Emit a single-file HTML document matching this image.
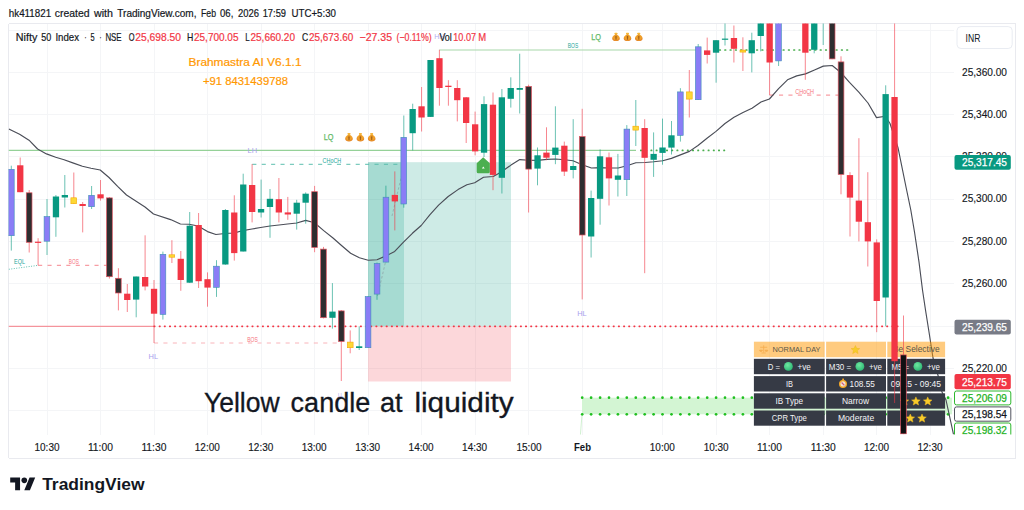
<!DOCTYPE html>
<html><head><meta charset="utf-8"><title>Chart</title>
<style>
html,body{margin:0;padding:0;background:#fff;}
body{width:1024px;height:510px;overflow:hidden;font-family:"Liberation Sans",sans-serif;}
svg{display:block;font-family:"Liberation Sans",sans-serif;}
</style></head><body>
<svg width="1024" height="510" viewBox="0 0 1024 510">
<defs>
<clipPath id="pane"><rect x="8.5" y="23.5" width="945.5" height="411"/></clipPath>
<clipPath id="axis"><rect x="954" y="23.5" width="61" height="411"/></clipPath>
<radialGradient id="gc" cx="0.4" cy="0.35" r="0.7"><stop offset="0" stop-color="#6ee7a0"/><stop offset="1" stop-color="#2bb673"/></radialGradient>
<radialGradient id="bag" cx="0.5" cy="0.45" r="0.6"><stop offset="0" stop-color="#d98a22"/><stop offset="0.5" stop-color="#f3a52b"/><stop offset="1" stop-color="#e17f26"/></radialGradient>
<g id="mb"><path d="M-1.4,-4.1 h2.8 l-0.6,1.5 c2.3,1.1 3.1,2.9 3,4.3 c-0.1,1.7 -1.6,2.4 -3.8,2.4 s-3.7,-0.7 -3.8,-2.4 c-0.1,-1.4 0.7,-3.2 3,-4.3 z" fill="url(#bag)"/><rect x="-1.5" y="-4.2" width="3" height="1.5" rx="0.6" fill="#f6b93b"/><rect x="-0.55" y="-0.9" width="1.1" height="3.6" fill="#8d4f17" opacity="0.8"/></g>
<path id="star" d="M0,-4.2 L1.25,-1.35 L4.3,-1.1 L1.95,0.9 L2.7,3.9 L0,2.3 L-2.7,3.9 L-1.95,0.9 L-4.3,-1.1 L-1.25,-1.35 Z" fill="#f7cb2b" stroke="#ecb91e" stroke-width="0.5" stroke-linejoin="round"/>
</defs>
<rect width="1024" height="510" fill="#fff"/>

<g fill="none" stroke="#e9eaef" stroke-width="1" shape-rendering="crispEdges">
<path d="M8.5,23.5 H1015.5 V458 M8.5,23.5 V458 M8.5,458 H1015.5"/>
</g>
<g stroke="#f4f5f7" stroke-width="1" shape-rendering="crispEdges">
<line x1="9" y1="30.0" x2="954" y2="30.0"/>
<line x1="9" y1="72.3" x2="954" y2="72.3"/>
<line x1="9" y1="114.6" x2="954" y2="114.6"/>
<line x1="9" y1="156.9" x2="954" y2="156.9"/>
<line x1="9" y1="199.2" x2="954" y2="199.2"/>
<line x1="9" y1="241.5" x2="954" y2="241.5"/>
<line x1="9" y1="283.8" x2="954" y2="283.8"/>
<line x1="9" y1="326.1" x2="954" y2="326.1"/>
<line x1="9" y1="368.4" x2="954" y2="368.4"/>
<line x1="9" y1="410.7" x2="954" y2="410.7"/>
<line x1="47.0" y1="24" x2="47.0" y2="434.5"/>
<line x1="100.5" y1="24" x2="100.5" y2="434.5"/>
<line x1="154.0" y1="24" x2="154.0" y2="434.5"/>
<line x1="207.5" y1="24" x2="207.5" y2="434.5"/>
<line x1="261.1" y1="24" x2="261.1" y2="434.5"/>
<line x1="314.6" y1="24" x2="314.6" y2="434.5"/>
<line x1="368.1" y1="24" x2="368.1" y2="434.5"/>
<line x1="421.6" y1="24" x2="421.6" y2="434.5"/>
<line x1="475.1" y1="24" x2="475.1" y2="434.5"/>
<line x1="528.6" y1="24" x2="528.6" y2="434.5"/>
<line x1="582.2" y1="24" x2="582.2" y2="434.5"/>
<line x1="662.5" y1="24" x2="662.5" y2="434.5"/>
<line x1="716.1" y1="24" x2="716.1" y2="434.5"/>
<line x1="769.6" y1="24" x2="769.6" y2="434.5"/>
<line x1="823.2" y1="24" x2="823.2" y2="434.5"/>
<line x1="876.7" y1="24" x2="876.7" y2="434.5"/>
<line x1="930.3" y1="24" x2="930.3" y2="434.5"/>
</g>
<g clip-path="url(#pane)">
<rect x="368" y="162.2" width="143" height="164.1" fill="#089981" fill-opacity="0.2"/>
<rect x="368" y="162.2" width="36" height="164.1" fill="#089981" fill-opacity="0.2"/>
<rect x="368" y="326.3" width="143" height="55.2" fill="#f23645" fill-opacity="0.2"/>
<rect x="582" y="397.7" width="370" height="16.6" fill="#d3f5d3"/>
<line x1="582" y1="414.3" x2="580.4" y2="435" stroke="#c5eec5" stroke-width="0.8"/>
<circle cx="582.2" cy="397.7" r="1.35" fill="#1fbf1f"/><circle cx="582.2" cy="414.3" r="1.35" fill="#1fbf1f"/>
<circle cx="591.1" cy="397.7" r="1.35" fill="#1fbf1f"/><circle cx="591.1" cy="414.3" r="1.35" fill="#1fbf1f"/>
<circle cx="600.1" cy="397.7" r="1.35" fill="#1fbf1f"/><circle cx="600.1" cy="414.3" r="1.35" fill="#1fbf1f"/>
<circle cx="609.0" cy="397.7" r="1.35" fill="#1fbf1f"/><circle cx="609.0" cy="414.3" r="1.35" fill="#1fbf1f"/>
<circle cx="617.9" cy="397.7" r="1.35" fill="#1fbf1f"/><circle cx="617.9" cy="414.3" r="1.35" fill="#1fbf1f"/>
<circle cx="626.8" cy="397.7" r="1.35" fill="#1fbf1f"/><circle cx="626.8" cy="414.3" r="1.35" fill="#1fbf1f"/>
<circle cx="635.8" cy="397.7" r="1.35" fill="#1fbf1f"/><circle cx="635.8" cy="414.3" r="1.35" fill="#1fbf1f"/>
<circle cx="644.7" cy="397.7" r="1.35" fill="#1fbf1f"/><circle cx="644.7" cy="414.3" r="1.35" fill="#1fbf1f"/>
<circle cx="653.6" cy="397.7" r="1.35" fill="#1fbf1f"/><circle cx="653.6" cy="414.3" r="1.35" fill="#1fbf1f"/>
<circle cx="662.5" cy="397.7" r="1.35" fill="#1fbf1f"/><circle cx="662.5" cy="414.3" r="1.35" fill="#1fbf1f"/>
<circle cx="671.5" cy="397.7" r="1.35" fill="#1fbf1f"/><circle cx="671.5" cy="414.3" r="1.35" fill="#1fbf1f"/>
<circle cx="680.4" cy="397.7" r="1.35" fill="#1fbf1f"/><circle cx="680.4" cy="414.3" r="1.35" fill="#1fbf1f"/>
<circle cx="689.3" cy="397.7" r="1.35" fill="#1fbf1f"/><circle cx="689.3" cy="414.3" r="1.35" fill="#1fbf1f"/>
<circle cx="698.2" cy="397.7" r="1.35" fill="#1fbf1f"/><circle cx="698.2" cy="414.3" r="1.35" fill="#1fbf1f"/>
<circle cx="707.2" cy="397.7" r="1.35" fill="#1fbf1f"/><circle cx="707.2" cy="414.3" r="1.35" fill="#1fbf1f"/>
<circle cx="716.1" cy="397.7" r="1.35" fill="#1fbf1f"/><circle cx="716.1" cy="414.3" r="1.35" fill="#1fbf1f"/>
<circle cx="725.0" cy="397.7" r="1.35" fill="#1fbf1f"/><circle cx="725.0" cy="414.3" r="1.35" fill="#1fbf1f"/>
<circle cx="733.9" cy="397.7" r="1.35" fill="#1fbf1f"/><circle cx="733.9" cy="414.3" r="1.35" fill="#1fbf1f"/>
<circle cx="742.9" cy="397.7" r="1.35" fill="#1fbf1f"/><circle cx="742.9" cy="414.3" r="1.35" fill="#1fbf1f"/>
<circle cx="751.8" cy="397.7" r="1.35" fill="#1fbf1f"/><circle cx="751.8" cy="414.3" r="1.35" fill="#1fbf1f"/>
<circle cx="760.7" cy="397.7" r="1.35" fill="#1fbf1f"/><circle cx="760.7" cy="414.3" r="1.35" fill="#1fbf1f"/>
<circle cx="769.6" cy="397.7" r="1.35" fill="#1fbf1f"/><circle cx="769.6" cy="414.3" r="1.35" fill="#1fbf1f"/>
<circle cx="778.6" cy="397.7" r="1.35" fill="#1fbf1f"/><circle cx="778.6" cy="414.3" r="1.35" fill="#1fbf1f"/>
<circle cx="787.5" cy="397.7" r="1.35" fill="#1fbf1f"/><circle cx="787.5" cy="414.3" r="1.35" fill="#1fbf1f"/>
<circle cx="796.4" cy="397.7" r="1.35" fill="#1fbf1f"/><circle cx="796.4" cy="414.3" r="1.35" fill="#1fbf1f"/>
<circle cx="805.3" cy="397.7" r="1.35" fill="#1fbf1f"/><circle cx="805.3" cy="414.3" r="1.35" fill="#1fbf1f"/>
<circle cx="814.2" cy="397.7" r="1.35" fill="#1fbf1f"/><circle cx="814.2" cy="414.3" r="1.35" fill="#1fbf1f"/>
<circle cx="823.2" cy="397.7" r="1.35" fill="#1fbf1f"/><circle cx="823.2" cy="414.3" r="1.35" fill="#1fbf1f"/>
<circle cx="832.1" cy="397.7" r="1.35" fill="#1fbf1f"/><circle cx="832.1" cy="414.3" r="1.35" fill="#1fbf1f"/>
<circle cx="841.0" cy="397.7" r="1.35" fill="#1fbf1f"/><circle cx="841.0" cy="414.3" r="1.35" fill="#1fbf1f"/>
<circle cx="850.0" cy="397.7" r="1.35" fill="#1fbf1f"/><circle cx="850.0" cy="414.3" r="1.35" fill="#1fbf1f"/>
<circle cx="858.9" cy="397.7" r="1.35" fill="#1fbf1f"/><circle cx="858.9" cy="414.3" r="1.35" fill="#1fbf1f"/>
<circle cx="867.8" cy="397.7" r="1.35" fill="#1fbf1f"/><circle cx="867.8" cy="414.3" r="1.35" fill="#1fbf1f"/>
<circle cx="876.7" cy="397.7" r="1.35" fill="#1fbf1f"/><circle cx="876.7" cy="414.3" r="1.35" fill="#1fbf1f"/>
<circle cx="885.7" cy="397.7" r="1.35" fill="#1fbf1f"/><circle cx="885.7" cy="414.3" r="1.35" fill="#1fbf1f"/>
<circle cx="894.6" cy="397.7" r="1.35" fill="#1fbf1f"/><circle cx="894.6" cy="414.3" r="1.35" fill="#1fbf1f"/>
<circle cx="903.5" cy="397.7" r="1.35" fill="#1fbf1f"/><circle cx="903.5" cy="414.3" r="1.35" fill="#1fbf1f"/>
<circle cx="912.4" cy="397.7" r="1.35" fill="#1fbf1f"/><circle cx="912.4" cy="414.3" r="1.35" fill="#1fbf1f"/>
<circle cx="921.4" cy="397.7" r="1.35" fill="#1fbf1f"/><circle cx="921.4" cy="414.3" r="1.35" fill="#1fbf1f"/>
<circle cx="930.3" cy="397.7" r="1.35" fill="#1fbf1f"/><circle cx="930.3" cy="414.3" r="1.35" fill="#1fbf1f"/>
<circle cx="939.2" cy="397.7" r="1.35" fill="#1fbf1f"/><circle cx="939.2" cy="414.3" r="1.35" fill="#1fbf1f"/>
<circle cx="948.1" cy="397.7" r="1.35" fill="#1fbf1f"/><circle cx="948.1" cy="414.3" r="1.35" fill="#1fbf1f"/>
<line x1="8.5" y1="150.4" x2="636" y2="150.4" stroke="#95d198" stroke-width="1.1"/>
<g fill="#4caf50"><rect x="640.0" y="149.55" width="2.0" height="1.7" rx="0.6"/><rect x="645.2" y="149.55" width="2.0" height="1.7" rx="0.6"/><rect x="650.4" y="149.55" width="2.0" height="1.7" rx="0.6"/><rect x="655.6" y="149.55" width="2.0" height="1.7" rx="0.6"/><rect x="660.8" y="149.55" width="2.0" height="1.7" rx="0.6"/><rect x="666.0" y="149.55" width="2.0" height="1.7" rx="0.6"/><rect x="671.2" y="149.55" width="2.0" height="1.7" rx="0.6"/><rect x="676.4" y="149.55" width="2.0" height="1.7" rx="0.6"/><rect x="681.6" y="149.55" width="2.0" height="1.7" rx="0.6"/><rect x="686.8" y="149.55" width="2.0" height="1.7" rx="0.6"/><rect x="692.0" y="149.55" width="2.0" height="1.7" rx="0.6"/><rect x="697.2" y="149.55" width="2.0" height="1.7" rx="0.6"/><rect x="702.4" y="149.55" width="2.0" height="1.7" rx="0.6"/><rect x="707.6" y="149.55" width="2.0" height="1.7" rx="0.6"/><rect x="712.8" y="149.55" width="2.0" height="1.7" rx="0.6"/><rect x="718.0" y="149.55" width="2.0" height="1.7" rx="0.6"/><rect x="723.2" y="149.55" width="2.0" height="1.7" rx="0.6"/></g>
<line x1="439.4" y1="50" x2="698" y2="50" stroke="#a8d8aa" stroke-width="1.2"/>
<g fill="#4caf50"><rect x="718.9" y="49.15" width="2.2" height="1.7" rx="0.6"/><rect x="724.2" y="49.15" width="2.2" height="1.7" rx="0.6"/><rect x="729.5" y="49.15" width="2.2" height="1.7" rx="0.6"/><rect x="734.8" y="49.15" width="2.2" height="1.7" rx="0.6"/><rect x="740.1" y="49.15" width="2.2" height="1.7" rx="0.6"/><rect x="745.4" y="49.15" width="2.2" height="1.7" rx="0.6"/><rect x="750.7" y="49.15" width="2.2" height="1.7" rx="0.6"/><rect x="756.0" y="49.15" width="2.2" height="1.7" rx="0.6"/><rect x="761.3" y="49.15" width="2.2" height="1.7" rx="0.6"/><rect x="766.6" y="49.15" width="2.2" height="1.7" rx="0.6"/><rect x="771.9" y="49.15" width="2.2" height="1.7" rx="0.6"/><rect x="777.2" y="49.15" width="2.2" height="1.7" rx="0.6"/><rect x="782.5" y="49.15" width="2.2" height="1.7" rx="0.6"/><rect x="787.8" y="49.15" width="2.2" height="1.7" rx="0.6"/><rect x="793.1" y="49.15" width="2.2" height="1.7" rx="0.6"/><rect x="798.4" y="49.15" width="2.2" height="1.7" rx="0.6"/><rect x="803.7" y="49.15" width="2.2" height="1.7" rx="0.6"/><rect x="809.0" y="49.15" width="2.2" height="1.7" rx="0.6"/><rect x="814.3" y="49.15" width="2.2" height="1.7" rx="0.6"/><rect x="819.6" y="49.15" width="2.2" height="1.7" rx="0.6"/><rect x="824.9" y="49.15" width="2.2" height="1.7" rx="0.6"/><rect x="830.2" y="49.15" width="2.2" height="1.7" rx="0.6"/><rect x="835.5" y="49.15" width="2.2" height="1.7" rx="0.6"/><rect x="840.8" y="49.15" width="2.2" height="1.7" rx="0.6"/><rect x="846.1" y="49.15" width="2.2" height="1.7" rx="0.6"/></g>
<line x1="8.5" y1="326.3" x2="154" y2="326.3" stroke="#f47c85" stroke-width="1"/>
<g fill="#f23645"><rect x="153.5" y="325.45" width="2.0" height="1.7" rx="0.6"/><rect x="158.7" y="325.45" width="2.0" height="1.7" rx="0.6"/><rect x="163.8" y="325.45" width="2.0" height="1.7" rx="0.6"/><rect x="169.0" y="325.45" width="2.0" height="1.7" rx="0.6"/><rect x="174.1" y="325.45" width="2.0" height="1.7" rx="0.6"/><rect x="179.3" y="325.45" width="2.0" height="1.7" rx="0.6"/><rect x="184.5" y="325.45" width="2.0" height="1.7" rx="0.6"/><rect x="189.6" y="325.45" width="2.0" height="1.7" rx="0.6"/><rect x="194.8" y="325.45" width="2.0" height="1.7" rx="0.6"/><rect x="199.9" y="325.45" width="2.0" height="1.7" rx="0.6"/><rect x="205.1" y="325.45" width="2.0" height="1.7" rx="0.6"/><rect x="210.3" y="325.45" width="2.0" height="1.7" rx="0.6"/><rect x="215.4" y="325.45" width="2.0" height="1.7" rx="0.6"/><rect x="220.6" y="325.45" width="2.0" height="1.7" rx="0.6"/><rect x="225.7" y="325.45" width="2.0" height="1.7" rx="0.6"/><rect x="230.9" y="325.45" width="2.0" height="1.7" rx="0.6"/><rect x="236.1" y="325.45" width="2.0" height="1.7" rx="0.6"/><rect x="241.2" y="325.45" width="2.0" height="1.7" rx="0.6"/><rect x="246.4" y="325.45" width="2.0" height="1.7" rx="0.6"/><rect x="251.5" y="325.45" width="2.0" height="1.7" rx="0.6"/><rect x="256.7" y="325.45" width="2.0" height="1.7" rx="0.6"/><rect x="261.9" y="325.45" width="2.0" height="1.7" rx="0.6"/><rect x="267.0" y="325.45" width="2.0" height="1.7" rx="0.6"/><rect x="272.2" y="325.45" width="2.0" height="1.7" rx="0.6"/><rect x="277.3" y="325.45" width="2.0" height="1.7" rx="0.6"/><rect x="282.5" y="325.45" width="2.0" height="1.7" rx="0.6"/><rect x="287.7" y="325.45" width="2.0" height="1.7" rx="0.6"/><rect x="292.8" y="325.45" width="2.0" height="1.7" rx="0.6"/><rect x="298.0" y="325.45" width="2.0" height="1.7" rx="0.6"/><rect x="303.1" y="325.45" width="2.0" height="1.7" rx="0.6"/><rect x="308.3" y="325.45" width="2.0" height="1.7" rx="0.6"/><rect x="313.5" y="325.45" width="2.0" height="1.7" rx="0.6"/><rect x="318.6" y="325.45" width="2.0" height="1.7" rx="0.6"/><rect x="323.8" y="325.45" width="2.0" height="1.7" rx="0.6"/><rect x="328.9" y="325.45" width="2.0" height="1.7" rx="0.6"/><rect x="334.1" y="325.45" width="2.0" height="1.7" rx="0.6"/><rect x="339.3" y="325.45" width="2.0" height="1.7" rx="0.6"/><rect x="344.4" y="325.45" width="2.0" height="1.7" rx="0.6"/><rect x="349.6" y="325.45" width="2.0" height="1.7" rx="0.6"/><rect x="354.7" y="325.45" width="2.0" height="1.7" rx="0.6"/><rect x="359.9" y="325.45" width="2.0" height="1.7" rx="0.6"/><rect x="365.1" y="325.45" width="2.0" height="1.7" rx="0.6"/><rect x="370.2" y="325.45" width="2.0" height="1.7" rx="0.6"/><rect x="375.4" y="325.45" width="2.0" height="1.7" rx="0.6"/><rect x="380.5" y="325.45" width="2.0" height="1.7" rx="0.6"/><rect x="385.7" y="325.45" width="2.0" height="1.7" rx="0.6"/><rect x="390.9" y="325.45" width="2.0" height="1.7" rx="0.6"/><rect x="396.0" y="325.45" width="2.0" height="1.7" rx="0.6"/><rect x="401.2" y="325.45" width="2.0" height="1.7" rx="0.6"/><rect x="406.3" y="325.45" width="2.0" height="1.7" rx="0.6"/><rect x="411.5" y="325.45" width="2.0" height="1.7" rx="0.6"/><rect x="416.7" y="325.45" width="2.0" height="1.7" rx="0.6"/><rect x="421.8" y="325.45" width="2.0" height="1.7" rx="0.6"/><rect x="427.0" y="325.45" width="2.0" height="1.7" rx="0.6"/><rect x="432.1" y="325.45" width="2.0" height="1.7" rx="0.6"/><rect x="437.3" y="325.45" width="2.0" height="1.7" rx="0.6"/><rect x="442.5" y="325.45" width="2.0" height="1.7" rx="0.6"/><rect x="447.6" y="325.45" width="2.0" height="1.7" rx="0.6"/><rect x="452.8" y="325.45" width="2.0" height="1.7" rx="0.6"/><rect x="457.9" y="325.45" width="2.0" height="1.7" rx="0.6"/><rect x="463.1" y="325.45" width="2.0" height="1.7" rx="0.6"/><rect x="468.3" y="325.45" width="2.0" height="1.7" rx="0.6"/><rect x="473.4" y="325.45" width="2.0" height="1.7" rx="0.6"/><rect x="478.6" y="325.45" width="2.0" height="1.7" rx="0.6"/><rect x="483.7" y="325.45" width="2.0" height="1.7" rx="0.6"/><rect x="488.9" y="325.45" width="2.0" height="1.7" rx="0.6"/><rect x="494.1" y="325.45" width="2.0" height="1.7" rx="0.6"/><rect x="499.2" y="325.45" width="2.0" height="1.7" rx="0.6"/><rect x="504.4" y="325.45" width="2.0" height="1.7" rx="0.6"/><rect x="509.5" y="325.45" width="2.0" height="1.7" rx="0.6"/><rect x="514.7" y="325.45" width="2.0" height="1.7" rx="0.6"/><rect x="519.9" y="325.45" width="2.0" height="1.7" rx="0.6"/><rect x="525.0" y="325.45" width="2.0" height="1.7" rx="0.6"/><rect x="530.2" y="325.45" width="2.0" height="1.7" rx="0.6"/><rect x="535.3" y="325.45" width="2.0" height="1.7" rx="0.6"/><rect x="540.5" y="325.45" width="2.0" height="1.7" rx="0.6"/><rect x="545.7" y="325.45" width="2.0" height="1.7" rx="0.6"/><rect x="550.8" y="325.45" width="2.0" height="1.7" rx="0.6"/><rect x="556.0" y="325.45" width="2.0" height="1.7" rx="0.6"/><rect x="561.1" y="325.45" width="2.0" height="1.7" rx="0.6"/><rect x="566.3" y="325.45" width="2.0" height="1.7" rx="0.6"/><rect x="571.5" y="325.45" width="2.0" height="1.7" rx="0.6"/><rect x="576.6" y="325.45" width="2.0" height="1.7" rx="0.6"/><rect x="581.8" y="325.45" width="2.0" height="1.7" rx="0.6"/><rect x="586.9" y="325.45" width="2.0" height="1.7" rx="0.6"/><rect x="592.1" y="325.45" width="2.0" height="1.7" rx="0.6"/><rect x="597.3" y="325.45" width="2.0" height="1.7" rx="0.6"/><rect x="602.4" y="325.45" width="2.0" height="1.7" rx="0.6"/><rect x="607.6" y="325.45" width="2.0" height="1.7" rx="0.6"/><rect x="612.7" y="325.45" width="2.0" height="1.7" rx="0.6"/><rect x="617.9" y="325.45" width="2.0" height="1.7" rx="0.6"/><rect x="623.1" y="325.45" width="2.0" height="1.7" rx="0.6"/><rect x="628.2" y="325.45" width="2.0" height="1.7" rx="0.6"/><rect x="633.4" y="325.45" width="2.0" height="1.7" rx="0.6"/><rect x="638.5" y="325.45" width="2.0" height="1.7" rx="0.6"/><rect x="643.7" y="325.45" width="2.0" height="1.7" rx="0.6"/><rect x="648.9" y="325.45" width="2.0" height="1.7" rx="0.6"/><rect x="654.0" y="325.45" width="2.0" height="1.7" rx="0.6"/><rect x="659.2" y="325.45" width="2.0" height="1.7" rx="0.6"/><rect x="664.3" y="325.45" width="2.0" height="1.7" rx="0.6"/><rect x="669.5" y="325.45" width="2.0" height="1.7" rx="0.6"/><rect x="674.7" y="325.45" width="2.0" height="1.7" rx="0.6"/><rect x="679.8" y="325.45" width="2.0" height="1.7" rx="0.6"/><rect x="685.0" y="325.45" width="2.0" height="1.7" rx="0.6"/><rect x="690.1" y="325.45" width="2.0" height="1.7" rx="0.6"/><rect x="695.3" y="325.45" width="2.0" height="1.7" rx="0.6"/><rect x="700.5" y="325.45" width="2.0" height="1.7" rx="0.6"/><rect x="705.6" y="325.45" width="2.0" height="1.7" rx="0.6"/><rect x="710.8" y="325.45" width="2.0" height="1.7" rx="0.6"/><rect x="715.9" y="325.45" width="2.0" height="1.7" rx="0.6"/><rect x="721.1" y="325.45" width="2.0" height="1.7" rx="0.6"/><rect x="726.3" y="325.45" width="2.0" height="1.7" rx="0.6"/><rect x="731.4" y="325.45" width="2.0" height="1.7" rx="0.6"/><rect x="736.6" y="325.45" width="2.0" height="1.7" rx="0.6"/><rect x="741.7" y="325.45" width="2.0" height="1.7" rx="0.6"/><rect x="746.9" y="325.45" width="2.0" height="1.7" rx="0.6"/><rect x="752.1" y="325.45" width="2.0" height="1.7" rx="0.6"/><rect x="757.2" y="325.45" width="2.0" height="1.7" rx="0.6"/><rect x="762.4" y="325.45" width="2.0" height="1.7" rx="0.6"/><rect x="767.5" y="325.45" width="2.0" height="1.7" rx="0.6"/><rect x="772.7" y="325.45" width="2.0" height="1.7" rx="0.6"/><rect x="777.9" y="325.45" width="2.0" height="1.7" rx="0.6"/><rect x="783.0" y="325.45" width="2.0" height="1.7" rx="0.6"/><rect x="788.2" y="325.45" width="2.0" height="1.7" rx="0.6"/><rect x="793.3" y="325.45" width="2.0" height="1.7" rx="0.6"/><rect x="798.5" y="325.45" width="2.0" height="1.7" rx="0.6"/><rect x="803.7" y="325.45" width="2.0" height="1.7" rx="0.6"/><rect x="808.8" y="325.45" width="2.0" height="1.7" rx="0.6"/><rect x="814.0" y="325.45" width="2.0" height="1.7" rx="0.6"/><rect x="819.1" y="325.45" width="2.0" height="1.7" rx="0.6"/><rect x="824.3" y="325.45" width="2.0" height="1.7" rx="0.6"/><rect x="829.5" y="325.45" width="2.0" height="1.7" rx="0.6"/><rect x="834.6" y="325.45" width="2.0" height="1.7" rx="0.6"/><rect x="839.8" y="325.45" width="2.0" height="1.7" rx="0.6"/><rect x="844.9" y="325.45" width="2.0" height="1.7" rx="0.6"/><rect x="850.1" y="325.45" width="2.0" height="1.7" rx="0.6"/><rect x="855.3" y="325.45" width="2.0" height="1.7" rx="0.6"/><rect x="860.4" y="325.45" width="2.0" height="1.7" rx="0.6"/><rect x="865.6" y="325.45" width="2.0" height="1.7" rx="0.6"/><rect x="870.7" y="325.45" width="2.0" height="1.7" rx="0.6"/><rect x="875.9" y="325.45" width="2.0" height="1.7" rx="0.6"/><rect x="881.1" y="325.45" width="2.0" height="1.7" rx="0.6"/><rect x="886.2" y="325.45" width="2.0" height="1.7" rx="0.6"/><rect x="891.4" y="325.45" width="2.0" height="1.7" rx="0.6"/><rect x="896.5" y="325.45" width="2.0" height="1.7" rx="0.6"/></g>
<path d="M38.1,265.3 H108" fill="none" stroke="#f6858e" stroke-width="1" stroke-dasharray="4.1 5.3"/>
<path d="M8.8,269.3 L37.8,265.4" fill="none" stroke="#5cbfae" stroke-width="1" stroke-dasharray="1 1.5"/>
<path d="M154,343 H341" fill="none" stroke="#f9b4ba" stroke-width="1" stroke-dasharray="4.1 5.3"/>
<path d="M252.3,164.3 H398" fill="none" stroke="#5cbfae" stroke-width="1" stroke-dasharray="4.1 5.3"/>
<path d="M769.6,95.1 H840" fill="none" stroke="#f6858e" stroke-width="1" stroke-dasharray="4.1 5.3"/>
<path d="M377.5,296 L385.5,262 M392,216 L401.5,176" fill="none" stroke="#8a9aa0" stroke-width="0.8" stroke-dasharray="2.5 2" opacity="0.8"/>
<polyline points="8.8,129.0 19.6,134.3 29.0,140.2 37.6,149.0 46.5,153.9 55.7,157.3 64.1,159.8 73.5,163.1 82.4,166.3 91.0,168.3 100.2,170.0 109.0,177.5 117.6,186.3 126.5,195.0 145.0,207.0 153.5,214.0 170.6,219.6 180.4,224.0 189.2,224.2 198.0,226.0 207.5,231.6 215.9,234.5 225.0,233.5 234.0,233.0 242.7,230.6 252.0,229.0 260.6,227.5 270.0,226.0 279.0,225.0 287.5,224.0 296.7,223.0 305.7,220.4 314.5,222.7 323.7,230.6 333.0,238.0 341.5,245.5 350.6,253.3 359.4,257.8 368.2,260.2 377.0,259.8 385.9,255.9 394.7,251.4 403.5,242.2 412.4,233.3 421.2,225.5 430.0,214.7 438.6,205.1 448.2,196.5 458.0,189.6 466.9,184.7 474.7,182.7 483.5,177.3 493.3,176.5 501.2,172.0 511.0,165.1 519.8,159.6 528.6,160.2 537.6,160.4 546.9,159.4 555.7,159.0 564.5,159.8 573.0,160.8 582.2,164.7 591.4,168.0 600.0,167.6 609.0,168.0 618.2,168.0 626.9,165.7 635.9,162.7 645.1,162.5 653.7,161.8 662.7,160.8 671.4,158.4 680.4,154.9 689.4,151.4 698.0,145.5 707.0,138.2 716.0,131.4 725.0,123.5 734.0,117.3 743.0,112.5 752.0,108.2 761.0,102.0 769.4,99.0 778.6,88.6 787.5,79.8 796.7,75.9 805.5,73.9 814.5,70.0 823.3,66.1 832.2,65.5 840.8,72.5 849.5,82.4 858.8,92.2 868.0,103.0 876.5,117.6 885.4,116.3 890.0,123.5 898.0,147.6 906.0,187.0 910.8,210.0 914.5,232.0 919.0,262.0 922.5,290.0 925.5,310.0 929.0,332.0 933.0,358.0 938.2,376.0 942.0,392.0 946.0,400.0 953.5,434.5" fill="none" stroke="#4a4d57" stroke-width="1.15" stroke-linejoin="round"/>
<rect x="753.9" y="341.7" width="70.8" height="15.5" fill="#ff9800" fill-opacity="0.5"/>
<rect x="826.1" y="341.7" width="59.9" height="15.5" fill="#ff9800" fill-opacity="0.5"/>
<rect x="887.3" y="341.7" width="57.8" height="15.5" fill="#ff9800" fill-opacity="0.5"/>
<rect x="753.9" y="358.8" width="70.8" height="15.4" fill="#363a45"/>
<rect x="826.1" y="358.8" width="59.9" height="15.4" fill="#363a45"/>
<rect x="887.3" y="358.8" width="57.8" height="15.4" fill="#363a45"/>
<rect x="753.9" y="376.1" width="70.8" height="15.4" fill="#363a45"/>
<rect x="826.1" y="376.1" width="59.9" height="15.4" fill="#363a45"/>
<rect x="887.3" y="376.1" width="57.8" height="15.4" fill="#363a45"/>
<rect x="753.9" y="393.3" width="70.8" height="15.4" fill="#363a45"/>
<rect x="826.1" y="393.3" width="59.9" height="15.4" fill="#363a45"/>
<rect x="887.3" y="393.3" width="57.8" height="15.4" fill="#363a45"/>
<rect x="753.9" y="410.5" width="70.8" height="15.2" fill="#363a45"/>
<rect x="826.1" y="410.5" width="59.9" height="15.2" fill="#363a45"/>
<rect x="887.3" y="410.5" width="57.8" height="15.2" fill="#363a45"/>
<text x="796.5" y="352.0" font-size="7.6" fill="#5a5648" text-anchor="middle" font-weight="normal" textLength="48" lengthAdjust="spacingAndGlyphs" >NORMAL DAY</text>
<g stroke="#f5a94a" stroke-width="0.8" fill="none" opacity="0.9"><path d="M763.7,345.3 V352.6 M760.2,347.3 H767.2 M761.6,353 H765.8"/><path d="M759.6,350.2 a1.4,1.2 0 0 0 2.8,0 Z M765,350.2 a1.4,1.2 0 0 0 2.8,0 Z" fill="#f5a94a"/></g>
<use href="#star" x="855.4" y="349.7"/>
<text x="916.3" y="352.4" font-size="9" fill="#5a5648" text-anchor="middle" font-weight="normal" textLength="46.6" lengthAdjust="spacingAndGlyphs" >Be Selective</text>
<text x="773.9" y="369.5" font-size="8.5" fill="#f4f4f6" text-anchor="middle" font-weight="normal" textLength="12.2" lengthAdjust="spacingAndGlyphs" >D =</text>
<circle cx="788.4" cy="366.4" r="4.4" fill="url(#gc)"/>
<text x="804.2" y="369.5" font-size="8.5" fill="#f4f4f6" text-anchor="middle" font-weight="normal" textLength="13.3" lengthAdjust="spacingAndGlyphs" >+ve</text>
<text x="840.0" y="369.5" font-size="8.5" fill="#f4f4f6" text-anchor="middle" font-weight="normal" textLength="22.3" lengthAdjust="spacingAndGlyphs" >M30 =</text>
<circle cx="859.9" cy="366.4" r="4.4" fill="url(#gc)"/>
<text x="875.5" y="369.5" font-size="8.5" fill="#f4f4f6" text-anchor="middle" font-weight="normal" textLength="13.0" lengthAdjust="spacingAndGlyphs" >+ve</text>
<text x="900.4" y="369.5" font-size="8.5" fill="#f4f4f6" text-anchor="middle" font-weight="normal" textLength="17.6" lengthAdjust="spacingAndGlyphs" >M5 =</text>
<circle cx="917.9" cy="366.4" r="4.4" fill="url(#gc)"/>
<text x="933.5" y="369.5" font-size="8.5" fill="#f4f4f6" text-anchor="middle" font-weight="normal" textLength="13.0" lengthAdjust="spacingAndGlyphs" >+ve</text>
<text x="789.5" y="386.8" font-size="8.5" fill="#f4f4f6" text-anchor="middle" font-weight="normal" textLength="7" lengthAdjust="spacingAndGlyphs" >IB</text>
<rect x="842.2" y="378.6" width="1.8" height="1.6" fill="#f5a623"/><circle cx="843" cy="383.9" r="3.3" fill="#f1e4d4" stroke="#f5a623" stroke-width="1.4"/><path d="M841.6,382.5 L844.4,385.3" stroke="#d2557a" stroke-width="1.1"/>
<text x="862.2" y="386.8" font-size="8.5" fill="#f4f4f6" text-anchor="middle" font-weight="normal" textLength="25.2" lengthAdjust="spacingAndGlyphs" >108.55</text>
<text x="915.9" y="386.8" font-size="8.5" fill="#f4f4f6" text-anchor="middle" font-weight="normal" textLength="50.4" lengthAdjust="spacingAndGlyphs" >09:15 - 09:45</text>
<text x="789.3" y="404.0" font-size="8.5" fill="#f4f4f6" text-anchor="middle" font-weight="normal" textLength="27.5" lengthAdjust="spacingAndGlyphs" >IB Type</text>
<text x="855.5" y="404.0" font-size="8.5" fill="#f4f4f6" text-anchor="middle" font-weight="normal" textLength="27.2" lengthAdjust="spacingAndGlyphs" >Narrow</text>
<use href="#star" x="904.4" y="401.1"/>
<use href="#star" x="915.9" y="401.1"/>
<use href="#star" x="927.7" y="401.1"/>
<text x="789.3" y="421.1" font-size="8.5" fill="#f4f4f6" text-anchor="middle" font-weight="normal" textLength="35" lengthAdjust="spacingAndGlyphs" >CPR Type</text>
<text x="856.1" y="421.1" font-size="8.5" fill="#f4f4f6" text-anchor="middle" font-weight="normal" textLength="36.3" lengthAdjust="spacingAndGlyphs" >Moderate</text>
<use href="#star" x="910.3" y="418.2"/>
<use href="#star" x="922.0" y="418.2"/>
<line x1="11.3" y1="165.7" x2="11.3" y2="250.6" stroke="#089981" stroke-width="1" stroke-opacity="0.6"/>
<rect x="8.5" y="169.3" width="5.7" height="66.4" fill="#8a7df6" stroke="#3f8fb8" stroke-width="0.6"/>
<line x1="20.2" y1="157.5" x2="20.2" y2="192.2" stroke="#f23645" stroke-width="1" stroke-opacity="0.6"/>
<rect x="17.1" y="165.3" width="6.3" height="26.9" fill="#f23645"/>
<line x1="29.2" y1="190" x2="29.2" y2="252.5" stroke="#f23645" stroke-width="1" stroke-opacity="0.6"/>
<rect x="26.3" y="192.8" width="5.7" height="49.5" fill="#2e2e30" stroke="#df5561" stroke-width="0.7"/>
<line x1="38.1" y1="238.2" x2="38.1" y2="265.3" stroke="#f23645" stroke-width="1" stroke-opacity="0.6"/>
<rect x="34.9" y="241.7" width="6.3" height="1.2" fill="#f23645"/>
<line x1="47.0" y1="199" x2="47.0" y2="255" stroke="#089981" stroke-width="1" stroke-opacity="0.6"/>
<rect x="44.1" y="216.60000000000002" width="5.7" height="24.6" fill="#8a7df6" stroke="#3f8fb8" stroke-width="0.6"/>
<line x1="55.9" y1="195" x2="55.9" y2="236.8" stroke="#089981" stroke-width="1" stroke-opacity="0.6"/>
<rect x="52.8" y="196.5" width="6.3" height="20.8" fill="#089981"/>
<line x1="64.8" y1="175" x2="64.8" y2="207.5" stroke="#089981" stroke-width="1" stroke-opacity="0.6"/>
<rect x="61.7" y="195" width="6.3" height="2.5" fill="#089981"/>
<line x1="73.8" y1="172.5" x2="73.8" y2="204" stroke="#f23645" stroke-width="1" stroke-opacity="0.6"/>
<rect x="70.9" y="197.8" width="5.7" height="5.9" fill="#fdd835" stroke="#f5a800" stroke-width="0.6"/>
<line x1="82.7" y1="202" x2="82.7" y2="232.4" stroke="#f23645" stroke-width="1" stroke-opacity="0.6"/>
<rect x="79.5" y="204" width="6.3" height="2.0" fill="#f23645"/>
<line x1="91.6" y1="186" x2="91.6" y2="209" stroke="#089981" stroke-width="1" stroke-opacity="0.6"/>
<rect x="88.7" y="195.3" width="5.7" height="11.4" fill="#8a7df6" stroke="#3f8fb8" stroke-width="0.6"/>
<line x1="100.5" y1="180" x2="100.5" y2="200.6" stroke="#f23645" stroke-width="1" stroke-opacity="0.6"/>
<rect x="97.4" y="194.3" width="6.3" height="4.1" fill="#f23645"/>
<line x1="109.4" y1="197" x2="109.4" y2="278.6" stroke="#f23645" stroke-width="1" stroke-opacity="0.6"/>
<rect x="106.6" y="197.9" width="5.7" height="78.8" fill="#2e2e30" stroke="#df5561" stroke-width="0.7"/>
<line x1="118.4" y1="268.2" x2="118.4" y2="310.4" stroke="#f23645" stroke-width="1" stroke-opacity="0.6"/>
<rect x="115.5" y="278.3" width="5.7" height="14.7" fill="#2e2e30" stroke="#df5561" stroke-width="0.7"/>
<line x1="127.3" y1="284" x2="127.3" y2="312" stroke="#f23645" stroke-width="1" stroke-opacity="0.6"/>
<rect x="124.1" y="293.7" width="6.3" height="6.3" fill="#f23645"/>
<line x1="136.2" y1="276.5" x2="136.2" y2="317.3" stroke="#089981" stroke-width="1" stroke-opacity="0.6"/>
<rect x="133.0" y="276.5" width="6.3" height="23.1" fill="#089981"/>
<line x1="145.1" y1="235.3" x2="145.1" y2="290.4" stroke="#f23645" stroke-width="1" stroke-opacity="0.6"/>
<rect x="142.0" y="277" width="6.3" height="9.5" fill="#f23645"/>
<line x1="154.0" y1="280" x2="154.0" y2="343" stroke="#f23645" stroke-width="1" stroke-opacity="0.6"/>
<rect x="150.9" y="288.8" width="6.3" height="24.9" fill="#f23645"/>
<line x1="162.9" y1="251.6" x2="162.9" y2="319.6" stroke="#089981" stroke-width="1" stroke-opacity="0.6"/>
<rect x="160.1" y="254.3" width="5.7" height="60.1" fill="#8a7df6" stroke="#3f8fb8" stroke-width="0.6"/>
<line x1="171.9" y1="240.2" x2="171.9" y2="263" stroke="#f23645" stroke-width="1" stroke-opacity="0.6"/>
<rect x="169.0" y="254.8" width="5.7" height="2.4" fill="#fdd835" stroke="#f5a800" stroke-width="0.6"/>
<line x1="180.8" y1="251" x2="180.8" y2="290.8" stroke="#f23645" stroke-width="1" stroke-opacity="0.6"/>
<rect x="177.6" y="258.8" width="6.3" height="21.2" fill="#f23645"/>
<line x1="189.7" y1="212" x2="189.7" y2="283" stroke="#089981" stroke-width="1" stroke-opacity="0.6"/>
<rect x="186.6" y="225.7" width="6.3" height="57.0" fill="#089981"/>
<line x1="198.6" y1="213" x2="198.6" y2="288" stroke="#f23645" stroke-width="1" stroke-opacity="0.6"/>
<rect x="195.5" y="225" width="6.3" height="56.2" fill="#f23645"/>
<line x1="207.5" y1="272.4" x2="207.5" y2="306.7" stroke="#f23645" stroke-width="1" stroke-opacity="0.6"/>
<rect x="204.4" y="279.2" width="6.3" height="8.4" fill="#f23645"/>
<line x1="216.5" y1="260.2" x2="216.5" y2="296.9" stroke="#089981" stroke-width="1" stroke-opacity="0.6"/>
<rect x="213.6" y="266.2" width="5.7" height="21.1" fill="#8a7df6" stroke="#3f8fb8" stroke-width="0.6"/>
<line x1="225.4" y1="209" x2="225.4" y2="264.8" stroke="#089981" stroke-width="1" stroke-opacity="0.6"/>
<rect x="222.2" y="210" width="6.3" height="54.5" fill="#089981"/>
<line x1="234.3" y1="195.3" x2="234.3" y2="260.6" stroke="#f23645" stroke-width="1" stroke-opacity="0.6"/>
<rect x="231.1" y="212.5" width="6.3" height="40.6" fill="#f23645"/>
<line x1="243.2" y1="173.7" x2="243.2" y2="251.6" stroke="#089981" stroke-width="1" stroke-opacity="0.6"/>
<rect x="240.1" y="184.5" width="6.3" height="67.0" fill="#089981"/>
<line x1="252.1" y1="164" x2="252.1" y2="222.4" stroke="#f23645" stroke-width="1" stroke-opacity="0.6"/>
<rect x="249.0" y="185" width="6.3" height="27.0" fill="#f23645"/>
<line x1="261.1" y1="179.6" x2="261.1" y2="217.5" stroke="#089981" stroke-width="1" stroke-opacity="0.6"/>
<rect x="257.9" y="209" width="6.3" height="3.5" fill="#089981"/>
<line x1="270.0" y1="189" x2="270.0" y2="237.8" stroke="#089981" stroke-width="1" stroke-opacity="0.6"/>
<rect x="266.8" y="198.8" width="6.3" height="8.2" fill="#089981"/>
<line x1="278.9" y1="178" x2="278.9" y2="222.4" stroke="#f23645" stroke-width="1" stroke-opacity="0.6"/>
<rect x="275.7" y="199.2" width="6.3" height="13.3" fill="#f23645"/>
<line x1="287.8" y1="196.9" x2="287.8" y2="219.8" stroke="#f23645" stroke-width="1" stroke-opacity="0.6"/>
<rect x="284.7" y="212.4" width="6.3" height="2.1" fill="#f23645"/>
<line x1="296.7" y1="199.8" x2="296.7" y2="229.6" stroke="#089981" stroke-width="1" stroke-opacity="0.6"/>
<rect x="293.6" y="202.7" width="6.3" height="11.0" fill="#089981"/>
<line x1="305.7" y1="192.4" x2="305.7" y2="223.7" stroke="#089981" stroke-width="1" stroke-opacity="0.6"/>
<rect x="302.5" y="193.7" width="6.3" height="9.0" fill="#089981"/>
<line x1="314.6" y1="185.9" x2="314.6" y2="252.2" stroke="#f23645" stroke-width="1" stroke-opacity="0.6"/>
<rect x="311.7" y="191.70000000000002" width="5.7" height="55.7" fill="#2e2e30" stroke="#df5561" stroke-width="0.7"/>
<line x1="323.5" y1="246.9" x2="323.5" y2="318.4" stroke="#f23645" stroke-width="1" stroke-opacity="0.6"/>
<rect x="320.6" y="249.10000000000002" width="5.7" height="68.6" fill="#2e2e30" stroke="#df5561" stroke-width="0.7"/>
<line x1="332.4" y1="283.1" x2="332.4" y2="328.6" stroke="#089981" stroke-width="1" stroke-opacity="0.6"/>
<rect x="329.3" y="311.6" width="6.3" height="6.2" fill="#089981"/>
<line x1="341.3" y1="310" x2="341.3" y2="381" stroke="#f23645" stroke-width="1" stroke-opacity="0.6"/>
<rect x="338.5" y="310.90000000000003" width="5.7" height="30.6" fill="#2e2e30" stroke="#df5561" stroke-width="0.7"/>
<line x1="350.2" y1="330.4" x2="350.2" y2="353.3" stroke="#f23645" stroke-width="1" stroke-opacity="0.6"/>
<rect x="347.4" y="342.1" width="5.7" height="5.6" fill="#fdd835" stroke="#f5a800" stroke-width="0.6"/>
<line x1="359.2" y1="326.5" x2="359.2" y2="350" stroke="#089981" stroke-width="1" stroke-opacity="0.6"/>
<rect x="356.0" y="346.3" width="6.3" height="1.7" fill="#089981"/>
<line x1="368.1" y1="296" x2="368.1" y2="348" stroke="#089981" stroke-width="1" stroke-opacity="0.6"/>
<rect x="365.2" y="296.6" width="5.7" height="51.1" fill="#8a7df6" stroke="#3f8fb8" stroke-width="0.6"/>
<line x1="377.0" y1="262.5" x2="377.0" y2="299.8" stroke="#089981" stroke-width="1" stroke-opacity="0.6"/>
<rect x="374.2" y="263.40000000000003" width="5.7" height="30.7" fill="#8a7df6" stroke="#3f8fb8" stroke-width="0.6"/>
<line x1="385.9" y1="185.7" x2="385.9" y2="262.4" stroke="#089981" stroke-width="1" stroke-opacity="0.6"/>
<rect x="383.1" y="197.20000000000002" width="5.7" height="64.9" fill="#8a7df6" stroke="#3f8fb8" stroke-width="0.6"/>
<line x1="394.8" y1="171.4" x2="394.8" y2="230.4" stroke="#f23645" stroke-width="1" stroke-opacity="0.6"/>
<rect x="391.7" y="194.9" width="6.3" height="6.5" fill="#f23645"/>
<line x1="403.8" y1="115.5" x2="403.8" y2="207.7" stroke="#089981" stroke-width="1" stroke-opacity="0.6"/>
<rect x="400.9" y="137.3" width="5.7" height="66.7" fill="#8a7df6" stroke="#3f8fb8" stroke-width="0.6"/>
<line x1="412.7" y1="103.7" x2="412.7" y2="150.4" stroke="#089981" stroke-width="1" stroke-opacity="0.6"/>
<rect x="409.5" y="109" width="6.3" height="24.2" fill="#089981"/>
<line x1="421.6" y1="87" x2="421.6" y2="131.5" stroke="#f23645" stroke-width="1" stroke-opacity="0.6"/>
<rect x="418.4" y="106.3" width="6.3" height="11.2" fill="#f23645"/>
<line x1="430.5" y1="60" x2="430.5" y2="117" stroke="#089981" stroke-width="1" stroke-opacity="0.6"/>
<rect x="427.4" y="60" width="6.3" height="56.9" fill="#089981"/>
<line x1="439.4" y1="49.8" x2="439.4" y2="105.7" stroke="#f23645" stroke-width="1" stroke-opacity="0.6"/>
<rect x="436.3" y="58.2" width="6.3" height="29.8" fill="#f23645"/>
<line x1="448.4" y1="80.2" x2="448.4" y2="105.7" stroke="#f23645" stroke-width="1" stroke-opacity="0.6"/>
<rect x="445.2" y="85.7" width="6.3" height="1.3" fill="#f23645"/>
<line x1="457.3" y1="80.2" x2="457.3" y2="121.4" stroke="#f23645" stroke-width="1" stroke-opacity="0.6"/>
<rect x="454.1" y="88" width="6.3" height="12.2" fill="#f23645"/>
<line x1="466.2" y1="97" x2="466.2" y2="143" stroke="#f23645" stroke-width="1" stroke-opacity="0.6"/>
<rect x="463.0" y="97.3" width="6.3" height="25.7" fill="#f23645"/>
<line x1="475.1" y1="111.6" x2="475.1" y2="155.3" stroke="#f23645" stroke-width="1" stroke-opacity="0.6"/>
<rect x="472.0" y="124.3" width="6.3" height="27.1" fill="#f23645"/>
<line x1="484.0" y1="96.3" x2="484.0" y2="157" stroke="#089981" stroke-width="1" stroke-opacity="0.6"/>
<rect x="480.9" y="104.1" width="6.3" height="48.6" fill="#089981"/>
<line x1="493.0" y1="92.5" x2="493.0" y2="190.2" stroke="#f23645" stroke-width="1" stroke-opacity="0.6"/>
<rect x="489.8" y="104.7" width="6.3" height="70.2" fill="#f23645"/>
<line x1="501.9" y1="89" x2="501.9" y2="193.5" stroke="#089981" stroke-width="1" stroke-opacity="0.6"/>
<rect x="498.7" y="97.3" width="6.3" height="80.5" fill="#089981"/>
<line x1="510.8" y1="77.3" x2="510.8" y2="107.6" stroke="#089981" stroke-width="1" stroke-opacity="0.6"/>
<rect x="507.6" y="88" width="6.3" height="10.8" fill="#089981"/>
<line x1="519.7" y1="53.7" x2="519.7" y2="113.5" stroke="#089981" stroke-width="1" stroke-opacity="0.6"/>
<rect x="516.6" y="88" width="6.3" height="1.8" fill="#089981"/>
<line x1="528.6" y1="84.7" x2="528.6" y2="212.5" stroke="#f23645" stroke-width="1" stroke-opacity="0.6"/>
<rect x="525.8" y="86.39999999999999" width="5.7" height="82.7" fill="#2e2e30" stroke="#df5561" stroke-width="0.7"/>
<line x1="537.5" y1="147.5" x2="537.5" y2="185.3" stroke="#089981" stroke-width="1" stroke-opacity="0.6"/>
<rect x="534.4" y="155.3" width="6.3" height="13.3" fill="#089981"/>
<line x1="546.5" y1="127.3" x2="546.5" y2="160.2" stroke="#f23645" stroke-width="1" stroke-opacity="0.6"/>
<rect x="543.3" y="152.6" width="6.3" height="5.1" fill="#f23645"/>
<line x1="555.4" y1="106.3" x2="555.4" y2="164.2" stroke="#089981" stroke-width="1" stroke-opacity="0.6"/>
<rect x="552.2" y="147.6" width="6.3" height="7.3" fill="#089981"/>
<line x1="564.3" y1="141.6" x2="564.3" y2="176" stroke="#f23645" stroke-width="1" stroke-opacity="0.6"/>
<rect x="561.2" y="145.7" width="6.3" height="25.9" fill="#f23645"/>
<line x1="573.2" y1="119.2" x2="573.2" y2="178.4" stroke="#089981" stroke-width="1" stroke-opacity="0.6"/>
<rect x="570.1" y="166" width="6.3" height="4.0" fill="#089981"/>
<line x1="582.2" y1="108.8" x2="582.2" y2="299.4" stroke="#f23645" stroke-width="1" stroke-opacity="0.6"/>
<rect x="579.4" y="136.60000000000002" width="5.7" height="98.4" fill="#2e2e30" stroke="#df5561" stroke-width="0.7"/>
<line x1="591.1" y1="190.6" x2="591.1" y2="257.5" stroke="#089981" stroke-width="1" stroke-opacity="0.6"/>
<rect x="588.0" y="198" width="6.3" height="38.5" fill="#089981"/>
<line x1="600.1" y1="149.4" x2="600.1" y2="224.7" stroke="#089981" stroke-width="1" stroke-opacity="0.6"/>
<rect x="596.9" y="156.3" width="6.3" height="42.5" fill="#089981"/>
<line x1="609.0" y1="152.5" x2="609.0" y2="205.5" stroke="#f23645" stroke-width="1" stroke-opacity="0.6"/>
<rect x="605.8" y="157.3" width="6.3" height="21.1" fill="#f23645"/>
<line x1="617.9" y1="153.9" x2="617.9" y2="196.5" stroke="#089981" stroke-width="1" stroke-opacity="0.6"/>
<rect x="614.8" y="175.5" width="6.3" height="4.3" fill="#089981"/>
<line x1="626.8" y1="125.1" x2="626.8" y2="196" stroke="#089981" stroke-width="1" stroke-opacity="0.6"/>
<rect x="624.0" y="129.10000000000002" width="5.7" height="50.6" fill="#8a7df6" stroke="#3f8fb8" stroke-width="0.6"/>
<line x1="635.8" y1="100" x2="635.8" y2="146" stroke="#089981" stroke-width="1" stroke-opacity="0.6"/>
<rect x="632.9" y="126.2" width="5.7" height="3.9" fill="#fdd835" stroke="#f5a800" stroke-width="0.6"/>
<line x1="644.7" y1="119.2" x2="644.7" y2="273.2" stroke="#f23645" stroke-width="1" stroke-opacity="0.6"/>
<rect x="641.5" y="128" width="6.3" height="29.8" fill="#f23645"/>
<line x1="653.6" y1="132.4" x2="653.6" y2="176.9" stroke="#089981" stroke-width="1" stroke-opacity="0.6"/>
<rect x="650.5" y="153.9" width="6.3" height="5.9" fill="#089981"/>
<line x1="662.5" y1="118.6" x2="662.5" y2="164.7" stroke="#089981" stroke-width="1" stroke-opacity="0.6"/>
<rect x="659.4" y="147.5" width="6.3" height="5.4" fill="#089981"/>
<line x1="671.5" y1="121" x2="671.5" y2="154.5" stroke="#089981" stroke-width="1" stroke-opacity="0.6"/>
<rect x="668.3" y="135.3" width="6.3" height="12.3" fill="#089981"/>
<line x1="680.4" y1="88.2" x2="680.4" y2="141.6" stroke="#089981" stroke-width="1" stroke-opacity="0.6"/>
<rect x="677.5" y="91.89999999999999" width="5.7" height="43.5" fill="#8a7df6" stroke="#3f8fb8" stroke-width="0.6"/>
<line x1="689.3" y1="70" x2="689.3" y2="117.5" stroke="#f23645" stroke-width="1" stroke-opacity="0.6"/>
<rect x="686.5" y="91.89999999999999" width="5.7" height="7.2" fill="#fdd835" stroke="#f5a800" stroke-width="0.6"/>
<line x1="698.2" y1="44" x2="698.2" y2="100" stroke="#089981" stroke-width="1" stroke-opacity="0.6"/>
<rect x="695.4" y="46.8" width="5.7" height="52.9" fill="#8a7df6" stroke="#3f8fb8" stroke-width="0.6"/>
<line x1="707.2" y1="37.6" x2="707.2" y2="63.5" stroke="#f23645" stroke-width="1" stroke-opacity="0.6"/>
<rect x="704.0" y="50.4" width="6.3" height="4.5" fill="#f23645"/>
<line x1="716.1" y1="40" x2="716.1" y2="82.7" stroke="#089981" stroke-width="1" stroke-opacity="0.6"/>
<rect x="712.9" y="40.2" width="6.3" height="12.5" fill="#089981"/>
<line x1="725.0" y1="10" x2="725.0" y2="45.5" stroke="#089981" stroke-width="1" stroke-opacity="0.6"/>
<rect x="721.9" y="38.6" width="6.3" height="1.2" fill="#089981"/>
<line x1="733.9" y1="25.5" x2="733.9" y2="62.5" stroke="#f23645" stroke-width="1" stroke-opacity="0.6"/>
<rect x="730.8" y="38" width="6.3" height="10.8" fill="#f23645"/>
<line x1="742.9" y1="37.3" x2="742.9" y2="71" stroke="#f23645" stroke-width="1" stroke-opacity="0.6"/>
<rect x="740.0" y="50.099999999999994" width="5.7" height="2.0" fill="#fdd835" stroke="#f5a800" stroke-width="0.6"/>
<line x1="751.8" y1="32.7" x2="751.8" y2="72.4" stroke="#089981" stroke-width="1" stroke-opacity="0.6"/>
<rect x="748.6" y="40.2" width="6.3" height="13.1" fill="#089981"/>
<line x1="760.7" y1="10" x2="760.7" y2="51.4" stroke="#089981" stroke-width="1" stroke-opacity="0.6"/>
<rect x="757.6" y="10" width="6.3" height="26.0" fill="#089981"/>
<line x1="769.6" y1="10" x2="769.6" y2="95.1" stroke="#f23645" stroke-width="1" stroke-opacity="0.6"/>
<rect x="766.5" y="10" width="6.3" height="52.5" fill="#f23645"/>
<line x1="778.6" y1="10" x2="778.6" y2="66" stroke="#089981" stroke-width="1" stroke-opacity="0.6"/>
<rect x="775.7" y="10.3" width="5.7" height="50.6" fill="#8a7df6" stroke="#3f8fb8" stroke-width="0.6"/>
<line x1="805.3" y1="10" x2="805.3" y2="79.8" stroke="#f23645" stroke-width="1" stroke-opacity="0.6"/>
<rect x="802.2" y="10" width="6.3" height="42.7" fill="#f23645"/>
<line x1="814.2" y1="10" x2="814.2" y2="53.3" stroke="#089981" stroke-width="1" stroke-opacity="0.6"/>
<rect x="811.1" y="10" width="6.3" height="39.8" fill="#089981"/>
<line x1="823.2" y1="5" x2="823.2" y2="45" stroke="#089981" stroke-width="1" stroke-opacity="0.6"/>
<rect x="820.0" y="8" width="6.3" height="1.0" fill="#089981"/>
<line x1="832.1" y1="10" x2="832.1" y2="59.2" stroke="#f23645" stroke-width="1" stroke-opacity="0.6"/>
<rect x="829.3" y="10.3" width="5.7" height="48.6" fill="#2e2e30" stroke="#df5561" stroke-width="0.7"/>
<line x1="841.0" y1="56.3" x2="841.0" y2="194.3" stroke="#f23645" stroke-width="1" stroke-opacity="0.6"/>
<rect x="838.2" y="61.9" width="5.7" height="112.5" fill="#2e2e30" stroke="#df5561" stroke-width="0.7"/>
<line x1="850.0" y1="172.2" x2="850.0" y2="236.5" stroke="#f23645" stroke-width="1" stroke-opacity="0.6"/>
<rect x="846.8" y="175.1" width="6.3" height="22.5" fill="#f23645"/>
<line x1="858.9" y1="138.2" x2="858.9" y2="241.4" stroke="#f23645" stroke-width="1" stroke-opacity="0.6"/>
<rect x="855.7" y="200.6" width="6.3" height="21.1" fill="#f23645"/>
<line x1="867.8" y1="172.2" x2="867.8" y2="266.5" stroke="#f23645" stroke-width="1" stroke-opacity="0.6"/>
<rect x="864.7" y="222.2" width="6.3" height="19.2" fill="#f23645"/>
<line x1="876.7" y1="239.4" x2="876.7" y2="332.2" stroke="#f23645" stroke-width="1" stroke-opacity="0.6"/>
<rect x="873.6" y="242.4" width="6.3" height="58.6" fill="#f23645"/>
<line x1="885.7" y1="85.3" x2="885.7" y2="326.3" stroke="#089981" stroke-width="1" stroke-opacity="0.6"/>
<rect x="882.5" y="94.1" width="6.3" height="203.4" fill="#089981"/>
<line x1="894.6" y1="10" x2="894.6" y2="403" stroke="#f23645" stroke-width="1" stroke-opacity="0.6"/>
<rect x="891.4" y="97" width="6.3" height="264.2" fill="#f23645"/>
<line x1="903.5" y1="315.5" x2="903.5" y2="434.2" stroke="#f23645" stroke-width="1" stroke-opacity="0.6"/>
<rect x="900.6" y="354.90000000000003" width="5.7" height="79.0" fill="#101012" stroke="#df5561" stroke-width="0.7"/>
<path d="M476.7,163.3 L483.2,157.3 L489.8,163.3 V171.8 a1.5,1.5 0 0 1 -1.5,1.5 H478.2 a1.5,1.5 0 0 1 -1.5,-1.5 Z" fill="#4caf50"/>
<path d="M481.9,168.6 L483.3,166.4 L484.7,168.6 Z" fill="#fff"/>
<text x="19.5" y="263.8" font-size="6.5" fill="#26a69a" text-anchor="middle" font-weight="normal" textLength="11" lengthAdjust="spacingAndGlyphs" >EQL</text>
<text x="73.8" y="263.9" font-size="6.5" fill="#f6737d" text-anchor="middle" font-weight="normal" textLength="10" lengthAdjust="spacingAndGlyphs" >BOS</text>
<text x="153.3" y="359" font-size="7" fill="#a9a1ee" text-anchor="middle" font-weight="normal" textLength="9.5" lengthAdjust="spacingAndGlyphs" >HL</text>
<text x="252.5" y="341.9" font-size="6.5" fill="#f6737d" text-anchor="middle" font-weight="normal" textLength="10.5" lengthAdjust="spacingAndGlyphs" >BOS</text>
<text x="252.3" y="152.6" font-size="7" fill="#a9a1ee" text-anchor="middle" font-weight="normal" textLength="9.5" lengthAdjust="spacingAndGlyphs" >LH</text>
<text x="331.9" y="163" font-size="6.5" fill="#26a69a" text-anchor="middle" font-weight="normal" textLength="18.6" lengthAdjust="spacingAndGlyphs" >CHoCH</text>
<text x="582" y="316.4" font-size="7" fill="#a9a1ee" text-anchor="middle" font-weight="normal" textLength="9.5" lengthAdjust="spacingAndGlyphs" >HL</text>
<text x="573" y="47.8" font-size="6.5" fill="#26a69a" text-anchor="middle" font-weight="normal" textLength="10.4" lengthAdjust="spacingAndGlyphs" >BOS</text>
<text x="804.7" y="94.3" font-size="6.5" fill="#f6737d" text-anchor="middle" font-weight="normal" textLength="18.7" lengthAdjust="spacingAndGlyphs" >CHoCH</text>
<text x="340.6" y="396.5" font-size="6" fill="#a9a1ee" text-anchor="middle" font-weight="normal" textLength="5" lengthAdjust="spacingAndGlyphs" >LL</text>
<text x="328.6" y="140.3" font-size="8.2" fill="#66bb6a" text-anchor="middle" font-weight="normal" textLength="9.8" lengthAdjust="spacingAndGlyphs" stroke="#66bb6a" stroke-width="0.25">LQ</text>
<use href="#mb" x="349" y="137.4"/>
<use href="#mb" x="360.4" y="137.4"/>
<use href="#mb" x="371.7" y="137.4"/>
<text x="596.1" y="39.9" font-size="8.2" fill="#66bb6a" text-anchor="middle" font-weight="normal" textLength="9.8" lengthAdjust="spacingAndGlyphs" stroke="#66bb6a" stroke-width="0.25">LQ</text>
<use href="#mb" x="616" y="37"/>
<use href="#mb" x="627.5" y="37"/>
<use href="#mb" x="638.8" y="37"/>
<text x="203.9" y="412.2" font-size="26.8" fill="#131722" text-anchor="start" font-weight="normal" textLength="75.7" lengthAdjust="spacingAndGlyphs"  stroke="#131722" stroke-width="0.3">Yellow</text>
<text x="290.6" y="412.2" font-size="26.8" fill="#131722" text-anchor="start" font-weight="normal" textLength="79.7" lengthAdjust="spacingAndGlyphs"  stroke="#131722" stroke-width="0.3">candle</text>
<text x="379.9" y="412.2" font-size="26.8" fill="#131722" text-anchor="start" font-weight="normal" textLength="22.6" lengthAdjust="spacingAndGlyphs"  stroke="#131722" stroke-width="0.3">at</text>
<text x="414.4" y="412.2" font-size="26.8" fill="#131722" text-anchor="start" font-weight="normal" textLength="99.3" lengthAdjust="spacingAndGlyphs"  stroke="#131722" stroke-width="0.3">liquidity</text>
<text x="245" y="65.8" font-size="11" fill="#ff9800" text-anchor="middle" font-weight="normal" textLength="113" lengthAdjust="spacingAndGlyphs"  stroke="#ff9800" stroke-width="0.2">Brahmastra AI V6.1.1</text>
<text x="245.5" y="85.3" font-size="11" fill="#ff9800" text-anchor="middle" font-weight="normal" textLength="85" lengthAdjust="spacingAndGlyphs"  stroke="#ff9800" stroke-width="0.2">+91 8431439788</text>
</g>
<g font-size="11" fill="#131722" stroke="#131722" stroke-width="0.15">
<text x="962" y="75.5" textLength="45" lengthAdjust="spacingAndGlyphs">25,360.00</text>
<text x="962" y="117.8" textLength="45" lengthAdjust="spacingAndGlyphs">25,340.00</text>
<text x="962" y="160.1" textLength="45" lengthAdjust="spacingAndGlyphs">25,320.00</text>
<text x="962" y="202.4" textLength="45" lengthAdjust="spacingAndGlyphs">25,300.00</text>
<text x="962" y="244.7" textLength="45" lengthAdjust="spacingAndGlyphs">25,280.00</text>
<text x="962" y="287.0" textLength="45" lengthAdjust="spacingAndGlyphs">25,260.00</text>
<text x="962" y="329.3" textLength="45" lengthAdjust="spacingAndGlyphs">25,240.00</text>
<text x="962" y="371.6" textLength="45" lengthAdjust="spacingAndGlyphs">25,220.00</text>
</g>
<g clip-path="url(#axis)" font-size="11">
<rect x="954.5" y="154.9" width="56.3" height="14.9" rx="2" fill="#089981"/>
<text x="962" y="166.3" fill="#fff" stroke="#fff" stroke-width="0.25" textLength="45" lengthAdjust="spacingAndGlyphs">25,317.45</text>
<rect x="954.5" y="319.7" width="56.3" height="14.7" rx="2" fill="#787b86"/>
<text x="962" y="330.9" fill="#fff" stroke="#fff" stroke-width="0.25" textLength="45" lengthAdjust="spacingAndGlyphs">25,239.65</text>
<rect x="954.5" y="374.1" width="56.3" height="15.1" rx="2" fill="#f23645"/>
<text x="962" y="385.5" fill="#fff" stroke="#fff" stroke-width="0.25" textLength="45" lengthAdjust="spacingAndGlyphs">25,213.75</text>
<rect x="954.5" y="391" width="56.3" height="13.9" rx="2" fill="#fff" stroke="#2eb82e" stroke-width="1"/>
<text x="962" y="401.8" fill="#1eb21e" stroke="#1eb21e" stroke-width="0.25" textLength="45" lengthAdjust="spacingAndGlyphs">25,206.09</text>
<rect x="954.5" y="406.9" width="56.3" height="14.3" rx="2" fill="#fff" stroke="#50535e" stroke-width="1"/>
<text x="962" y="417.9" fill="#131722" stroke="#131722" stroke-width="0.25" textLength="45" lengthAdjust="spacingAndGlyphs">25,198.54</text>
<rect x="954.5" y="423" width="56.3" height="14.5" rx="2" fill="#fff" stroke="#2eb82e" stroke-width="1"/>
<text x="962" y="434.1" fill="#1eb21e" stroke="#1eb21e" stroke-width="0.25" textLength="45" lengthAdjust="spacingAndGlyphs">25,198.32</text>
</g>
<rect x="957" y="26.6" width="55.2" height="21.9" rx="4" fill="#fff" stroke="#e9ecf2" stroke-width="1"/>
<text x="965.6" y="41.5" font-size="11" fill="#131722" text-anchor="start" font-weight="normal" textLength="14.8" lengthAdjust="spacingAndGlyphs" >INR</text>
<text x="47" y="450.6" font-size="10.8" fill="#131722" text-anchor="middle" font-weight="normal" textLength="25" lengthAdjust="spacingAndGlyphs"  stroke="#131722" stroke-width="0.15">10:30</text>
<text x="100.4" y="450.6" font-size="10.8" fill="#131722" text-anchor="middle" font-weight="normal" textLength="25" lengthAdjust="spacingAndGlyphs"  stroke="#131722" stroke-width="0.15">11:00</text>
<text x="153.9" y="450.6" font-size="10.8" fill="#131722" text-anchor="middle" font-weight="normal" textLength="25" lengthAdjust="spacingAndGlyphs"  stroke="#131722" stroke-width="0.15">11:30</text>
<text x="207.3" y="450.6" font-size="10.8" fill="#131722" text-anchor="middle" font-weight="normal" textLength="25" lengthAdjust="spacingAndGlyphs"  stroke="#131722" stroke-width="0.15">12:00</text>
<text x="260.8" y="450.6" font-size="10.8" fill="#131722" text-anchor="middle" font-weight="normal" textLength="25" lengthAdjust="spacingAndGlyphs"  stroke="#131722" stroke-width="0.15">12:30</text>
<text x="314.2" y="450.6" font-size="10.8" fill="#131722" text-anchor="middle" font-weight="normal" textLength="25" lengthAdjust="spacingAndGlyphs"  stroke="#131722" stroke-width="0.15">13:00</text>
<text x="367.7" y="450.6" font-size="10.8" fill="#131722" text-anchor="middle" font-weight="normal" textLength="25" lengthAdjust="spacingAndGlyphs"  stroke="#131722" stroke-width="0.15">13:30</text>
<text x="421.1" y="450.6" font-size="10.8" fill="#131722" text-anchor="middle" font-weight="normal" textLength="25" lengthAdjust="spacingAndGlyphs"  stroke="#131722" stroke-width="0.15">14:00</text>
<text x="474.6" y="450.6" font-size="10.8" fill="#131722" text-anchor="middle" font-weight="normal" textLength="25" lengthAdjust="spacingAndGlyphs"  stroke="#131722" stroke-width="0.15">14:30</text>
<text x="529" y="450.6" font-size="10.8" fill="#131722" text-anchor="middle" font-weight="normal" textLength="25" lengthAdjust="spacingAndGlyphs"  stroke="#131722" stroke-width="0.15">15:00</text>
<text x="662.3" y="450.6" font-size="10.8" fill="#131722" text-anchor="middle" font-weight="normal" textLength="25" lengthAdjust="spacingAndGlyphs"  stroke="#131722" stroke-width="0.15">10:00</text>
<text x="716.2" y="450.6" font-size="10.8" fill="#131722" text-anchor="middle" font-weight="normal" textLength="25" lengthAdjust="spacingAndGlyphs"  stroke="#131722" stroke-width="0.15">10:30</text>
<text x="769.5" y="450.6" font-size="10.8" fill="#131722" text-anchor="middle" font-weight="normal" textLength="25" lengthAdjust="spacingAndGlyphs"  stroke="#131722" stroke-width="0.15">11:00</text>
<text x="823.3" y="450.6" font-size="10.8" fill="#131722" text-anchor="middle" font-weight="normal" textLength="25" lengthAdjust="spacingAndGlyphs"  stroke="#131722" stroke-width="0.15">11:30</text>
<text x="876.5" y="450.6" font-size="10.8" fill="#131722" text-anchor="middle" font-weight="normal" textLength="25" lengthAdjust="spacingAndGlyphs"  stroke="#131722" stroke-width="0.15">12:00</text>
<text x="930" y="450.6" font-size="10.8" fill="#131722" text-anchor="middle" font-weight="normal" textLength="25" lengthAdjust="spacingAndGlyphs"  stroke="#131722" stroke-width="0.15">12:30</text>
<text x="582.5" y="450.7" font-size="11" fill="#131722" text-anchor="middle" font-weight="bold" textLength="17" lengthAdjust="spacingAndGlyphs" >Feb</text>
<text x="8.8" y="16.8" font-size="10.6" fill="#131722" text-anchor="start" font-weight="normal" textLength="42.4" lengthAdjust="spacingAndGlyphs"  stroke="#131722" stroke-width="0.2">hk411821</text>
<text x="54.8" y="16.8" font-size="10.6" fill="#131722" text-anchor="start" font-weight="normal" textLength="34.8" lengthAdjust="spacingAndGlyphs"  stroke="#131722" stroke-width="0.2">created</text>
<text x="94" y="16.8" font-size="10.6" fill="#131722" text-anchor="start" font-weight="normal" textLength="19" lengthAdjust="spacingAndGlyphs"  stroke="#131722" stroke-width="0.2">with</text>
<text x="117.3" y="16.8" font-size="10.6" fill="#131722" text-anchor="start" font-weight="normal" textLength="79.2" lengthAdjust="spacingAndGlyphs"  stroke="#131722" stroke-width="0.2">TradingView.com,</text>
<text x="201" y="16.8" font-size="10.6" fill="#131722" text-anchor="start" font-weight="normal" textLength="15" lengthAdjust="spacingAndGlyphs"  stroke="#131722" stroke-width="0.2">Feb</text>
<text x="220" y="16.8" font-size="10.6" fill="#131722" text-anchor="start" font-weight="normal" textLength="13.3" lengthAdjust="spacingAndGlyphs"  stroke="#131722" stroke-width="0.2">06,</text>
<text x="238" y="16.8" font-size="10.6" fill="#131722" text-anchor="start" font-weight="normal" textLength="21" lengthAdjust="spacingAndGlyphs"  stroke="#131722" stroke-width="0.2">2026</text>
<text x="262.7" y="16.8" font-size="10.6" fill="#131722" text-anchor="start" font-weight="normal" textLength="23.3" lengthAdjust="spacingAndGlyphs"  stroke="#131722" stroke-width="0.2">17:59</text>
<text x="291.5" y="16.8" font-size="10.6" fill="#131722" text-anchor="start" font-weight="normal" textLength="44.5" lengthAdjust="spacingAndGlyphs"  stroke="#131722" stroke-width="0.2">UTC+5:30</text>
<text x="15.8" y="40.6" font-size="10.6" fill="#131722" text-anchor="start" font-weight="normal" textLength="21.5" lengthAdjust="spacingAndGlyphs"  stroke="#131722" stroke-width="0.2">Nifty</text>
<text x="41.3" y="40.6" font-size="10.6" fill="#131722" text-anchor="start" font-weight="normal" textLength="10.0" lengthAdjust="spacingAndGlyphs"  stroke="#131722" stroke-width="0.2">50</text>
<text x="55.4" y="40.6" font-size="10.6" fill="#131722" text-anchor="start" font-weight="normal" textLength="23.7" lengthAdjust="spacingAndGlyphs"  stroke="#131722" stroke-width="0.2">Index</text>
<text x="84.6" y="40.6" font-size="10.6" fill="#131722" text-anchor="start" font-weight="normal" textLength="2.0" lengthAdjust="spacingAndGlyphs"  stroke="#131722" stroke-width="0.2">·</text>
<text x="90.5" y="40.6" font-size="10.6" fill="#131722" text-anchor="start" font-weight="normal" textLength="4.1" lengthAdjust="spacingAndGlyphs"  stroke="#131722" stroke-width="0.2">5</text>
<text x="99.5" y="40.6" font-size="10.6" fill="#131722" text-anchor="start" font-weight="normal" textLength="2.0" lengthAdjust="spacingAndGlyphs"  stroke="#131722" stroke-width="0.2">·</text>
<text x="105.4" y="40.6" font-size="10.6" fill="#131722" text-anchor="start" font-weight="normal" textLength="16.2" lengthAdjust="spacingAndGlyphs"  stroke="#131722" stroke-width="0.2">NSE</text>
<text x="128.8" y="40.6" font-size="10.6" fill="#131722" text-anchor="start" font-weight="normal" textLength="5.8" lengthAdjust="spacingAndGlyphs"  stroke="#131722" stroke-width="0.2">O</text>
<text x="187" y="40.6" font-size="10.6" fill="#131722" text-anchor="start" font-weight="normal" textLength="6.3" lengthAdjust="spacingAndGlyphs"  stroke="#131722" stroke-width="0.2">H</text>
<text x="245.2" y="40.6" font-size="10.6" fill="#131722" text-anchor="start" font-weight="normal" textLength="4.4" lengthAdjust="spacingAndGlyphs"  stroke="#131722" stroke-width="0.2">L</text>
<text x="302" y="40.6" font-size="10.6" fill="#131722" text-anchor="start" font-weight="normal" textLength="6.2" lengthAdjust="spacingAndGlyphs"  stroke="#131722" stroke-width="0.2">C</text>
<text x="135.3" y="40.6" font-size="10.6" fill="#f23645" text-anchor="start" font-weight="normal" textLength="45.7" lengthAdjust="spacingAndGlyphs"  stroke="#f23645" stroke-width="0.2">25,698.50</text>
<text x="194" y="40.6" font-size="10.6" fill="#f23645" text-anchor="start" font-weight="normal" textLength="44.5" lengthAdjust="spacingAndGlyphs"  stroke="#f23645" stroke-width="0.2">25,700.05</text>
<text x="250.5" y="40.6" font-size="10.6" fill="#f23645" text-anchor="start" font-weight="normal" textLength="44.5" lengthAdjust="spacingAndGlyphs"  stroke="#f23645" stroke-width="0.2">25,660.20</text>
<text x="309" y="40.6" font-size="10.6" fill="#f23645" text-anchor="start" font-weight="normal" textLength="44.2" lengthAdjust="spacingAndGlyphs"  stroke="#f23645" stroke-width="0.2">25,673.60</text>
<text x="359.5" y="40.6" font-size="10.6" fill="#f23645" text-anchor="start" font-weight="normal" textLength="32.5" lengthAdjust="spacingAndGlyphs"  stroke="#f23645" stroke-width="0.2">−27.35</text>
<text x="396.5" y="40.6" font-size="10.6" fill="#f23645" text-anchor="start" font-weight="normal" textLength="35.2" lengthAdjust="spacingAndGlyphs"  stroke="#f23645" stroke-width="0.2">(−0.11%)</text>
<text x="439.2" y="39.4" font-size="7.2" fill="#b3acf0" text-anchor="middle" font-weight="normal" textLength="10" lengthAdjust="spacingAndGlyphs" >HH</text>
<text x="439.4" y="40.6" font-size="10.6" fill="#131722" text-anchor="start" font-weight="normal" textLength="12.4" lengthAdjust="spacingAndGlyphs"  stroke="#131722" stroke-width="0.2">Vol</text>
<text x="453.3" y="40.6" font-size="10.6" fill="#f23645" text-anchor="start" font-weight="normal" textLength="22.7" lengthAdjust="spacingAndGlyphs"  stroke="#f23645" stroke-width="0.2">10.07</text>
<text x="478.3" y="40.6" font-size="10.6" fill="#f23645" text-anchor="start" font-weight="normal" textLength="7.9" lengthAdjust="spacingAndGlyphs"  stroke="#f23645" stroke-width="0.2">M</text>
<g transform="translate(10.2,474.7) scale(0.704)" fill="#131722"><path d="M14 22H7V11H0V4h14v18zM28 22h-8l7.5-18h8L28 22z"/><circle cx="20" cy="8" r="4"/></g>
<text x="42.2" y="490" font-size="17" fill="#131722" text-anchor="start" font-weight="bold" textLength="102.3" lengthAdjust="spacingAndGlyphs" >TradingView</text>
</svg></body></html>
